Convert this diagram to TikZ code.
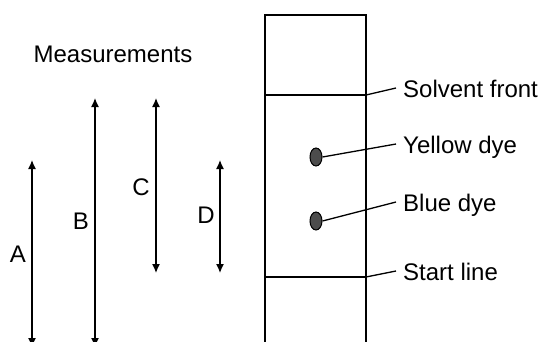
\documentclass[tikz,border=0pt]{standalone}
\usepackage{fontspec}
\setmainfont{Liberation Sans}
\usepackage{tikz}
\usetikzlibrary{shapes.geometric}
\usetikzlibrary{arrows.meta}
\usetikzlibrary{positioning}

\tikzset{
  lbl/.style={anchor=west, inner xsep=7pt, inner ysep=0pt, text height=18pt, text depth=0pt, font=\fontsize{24}{28}\selectfont},
  letter/.style={anchor=base, inner sep=0pt, font=\fontsize{24}{28}\selectfont},
  spot/.style={ellipse, draw=black, fill=black!70, line width=1pt, minimum width=12pt, minimum height=18pt, inner sep=0pt},
  meas/.style={line width=1.3pt, {Latex[length=9pt,width=8pt]}-{Latex[length=9pt,width=8pt]}}
}

\begin{document}
\begin{tikzpicture}[x=1pt,y=-1pt]
\useasboundingbox (0,0) rectangle (546,341);
\clip (0,0) rectangle (546,341);
% paper strip
\draw[line width=1.6pt] (265,350) -- (265,15) -- (366,15) -- (366,350);
\draw[line width=1.4pt] (265,95) -- (366,95);
\draw[line width=1.4pt] (265,277) -- (366,277);
\coordinate (front) at (366,95);
\coordinate (start) at (366,277);
\node[spot] (yellow) at (316,157) {};
\node[spot] (blue) at (316,221) {};
% labels on the right
\node[lbl] (lfront) at (396,88) {Solvent front};
\node[lbl] (lyellow) at (396,144) {Yellow dye};
\node[lbl] (lblue) at (396,202) {Blue dye};
\node[lbl] (lstart) at (396,271) {Start line};
\draw[line width=1.3pt] (front) -- (lfront.west);
\draw[line width=1.3pt] (yellow.east) -- (lyellow.west);
\draw[line width=1.3pt] (blue.east) -- (lblue.west);
\draw[line width=1.3pt] (start) -- (lstart.west);
% measurements
\node[letter] (title) at (113,62) {Measurements};
\draw[meas] (32,160) -- (32,347);
\draw[meas] (95,98) -- (95,347);
\draw[meas] (156,98) -- (156,273);
\draw[meas] (220,160) -- (220,273);
\node[letter] (A) at (18,262) {A};
\node[letter] (B) at (81,229) {B};
\node[letter] (C) at (141,195) {C};
\node[letter] (D) at (206,223) {D};
\end{tikzpicture}
\end{document}
